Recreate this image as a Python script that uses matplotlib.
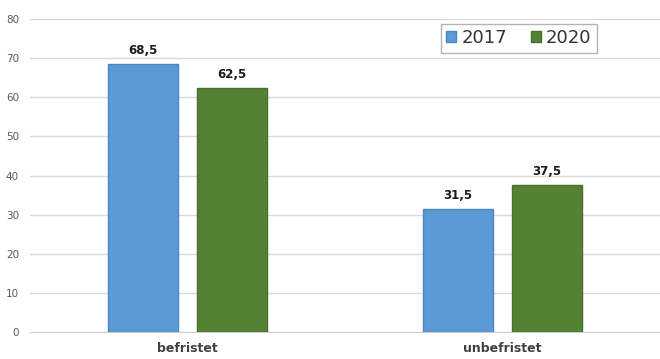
import numpy as np
import matplotlib.pyplot as plt

categories = ["befristet", "unbefristet"]
years = ["2017", "2020"]
values_2017 = [68.5, 31.5]
values_2020 = [62.5, 37.5]

colors = ["#5b9bd5", "#548235"]
edges = ["#4a86c0", "#43702a"]

fig = plt.figure(figsize=(6.6, 3.59), dpi=100)
ax = fig.add_axes([0.0455, 0.075, 0.9545, 0.872])

x = np.arange(len(categories))
w = 0.222
off = 0.142
for vals, sign, c, ec, lab in zip([values_2017, values_2020], [-1, 1], colors, edges, years):
    bars = ax.bar(x + sign * off, vals, width=w, color=c, edgecolor=ec, linewidth=1, label=lab, zorder=3)
    for b, v in zip(bars, vals):
        ax.annotate(f"{v:.1f}".replace(".", ","), (b.get_x() + b.get_width() / 2, v),
                    xytext=(0, 5), textcoords="offset points", ha="center", va="bottom",
                    fontsize=8.5, fontweight="bold", color="#1a1a1a")

ax.set_xlim(-0.5, 1.5)
ax.set_ylim(0, 80)
ax.set_yticks(range(0, 81, 10))
ax.set_xticks(x)
ax.set_xticklabels(categories, fontsize=9, fontweight="bold", color="#404040")
ax.tick_params(axis="y", labelsize=7.5, labelcolor="#595959", length=0, pad=8)
ax.tick_params(axis="x", length=0, pad=7)
ax.grid(axis="y", color="#d9d9d9", linewidth=1, zorder=0)
for s in ["top", "right", "left"]:
    ax.spines[s].set_visible(False)
ax.spines["bottom"].set_color("#d0d0d0")

leg = ax.legend(loc="upper left", bbox_to_anchor=(0.652, 0.985), ncol=2, fontsize=13,
                handlelength=0.55, handleheight=0.55, handletextpad=0.3, columnspacing=1.3,
                fancybox=False, edgecolor="#a0a0a0", borderpad=0.3, borderaxespad=0)
leg.get_frame().set_linewidth(1)
for t in leg.get_texts():
    t.set_color("#333333")

fig.savefig("out.png", dpi=100)
